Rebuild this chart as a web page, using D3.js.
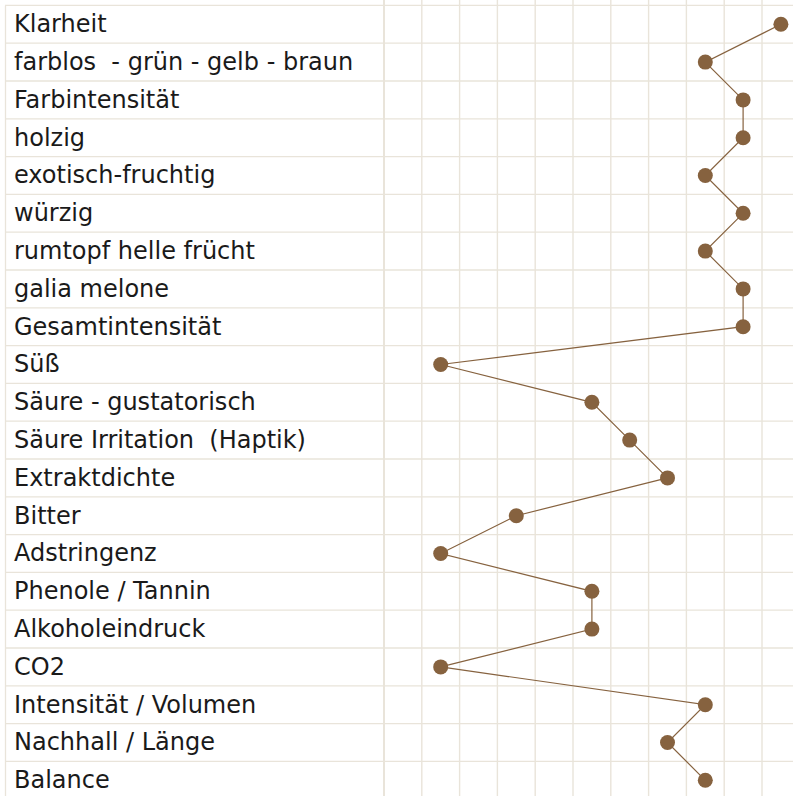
<!DOCTYPE html>
<html>
<head>
<meta charset="utf-8">
<script src="https://cdn.jsdelivr.net/npm/d3@7"></script>
<style>
  html, body { margin: 0; padding: 0; background: #fff; }
  svg { display: block; }
  .label { font-family: "DejaVu Sans", sans-serif; font-size: 24px; fill: #1a1a1a; white-space: pre; }
</style>
</head>
<body>
<div id="chart"></div>
<script>
// attributes, top to bottom
var attributes = [
  "Klarheit",
  "farblos  - grün - gelb - braun",
  "Farbintensität",
  "holzig",
  "exotisch-fruchtig",
  "würzig",
  "rumtopf helle frücht",
  "galia melone",
  "Gesamtintensität",
  "Süß",
  "Säure - gustatorisch",
  "Säure Irritation  (Haptik)",
  "Extraktdichte",
  "Bitter",
  "Adstringenz",
  "Phenole / Tannin",
  "Alkoholeindruck",
  "CO2",
  "Intensität / Volumen",
  "Nachhall / Länge",
  "Balance"
]
// score per attribute (scale 1..11, dot sits in the middle of its column)
var scores = [11, 9, 10, 10, 9, 10, 9, 10, 10, 2, 6, 7, 8, 4, 2, 6, 6, 2, 9, 8, 9]
var scaleTicks = d3.range(0, 12)

var width = 793, height = 796
var topY = 5.4, rowH = 37.8
var gridLeft = 384

var svg = d3.select("#chart").append("svg")
  .attr("width", width)
  .attr("height", height)

var x = d3.scaleLinear().domain([0, 11]).range([gridLeft, gridLeft + 11 * 37.8])
var y = d3.scaleBand().domain(attributes).range([topY, topY + attributes.length * rowH])

var data = attributes.map(function(a, i) { return {name: a, score: scores[i]} })

// horizontal row lines
svg.append("g").selectAll("line")
  .data(d3.range(0, attributes.length + 1))
  .enter().append("line")
  .attr("x1", 5).attr("x2", width)
  .attr("y1", function(d) { return topY + d * rowH })
  .attr("y2", function(d) { return topY + d * rowH })
  .style("stroke", "#e9e4da")
  .style("stroke-width", 1.3)

// left border
svg.append("line")
  .attr("x1", 5.5).attr("x2", 5.5)
  .attr("y1", topY).attr("y2", height)
  .style("stroke", "#e9e4da")
  .style("stroke-width", 1.3)

// vertical grid lines
svg.append("g").selectAll("line")
  .data(scaleTicks)
  .enter().append("line")
  .attr("x1", function(d) { return x(d) })
  .attr("x2", function(d) { return x(d) })
  .attr("y1", 0).attr("y2", height)
  .style("stroke", "#e9e4da")
  .style("stroke-width", function(d) { return d === 0 ? 2 : 1.4 })

// labels
svg.append("g").selectAll("text")
  .data(attributes)
  .enter().append("text")
  .attr("class", "label")
  .attr("x", 14)
  .attr("y", function(d) { return y(d) + y.bandwidth() / 2 })
  .attr("dy", "0.33em")
  .text(function(d) { return d })

var line = d3.line()
  .x(function(d) { return x(d.score - 0.5) })
  .y(function(d) { return y(d.name) + y.bandwidth() / 2 })

svg.append("path")
  .datum(data)
  .attr("d", line)
  .style("fill", "none")
  .style("stroke", "#86623f")
  .style("stroke-width", 1.2)

svg.append("g").selectAll("circle")
  .data(data)
  .enter().append("circle")
  .attr("cx", function(d) { return x(d.score - 0.5) })
  .attr("cy", function(d) { return y(d.name) + y.bandwidth() / 2 })
  .attr("r", 7.5)
  .style("fill", "#86623f")
</script>
</body>
</html>
